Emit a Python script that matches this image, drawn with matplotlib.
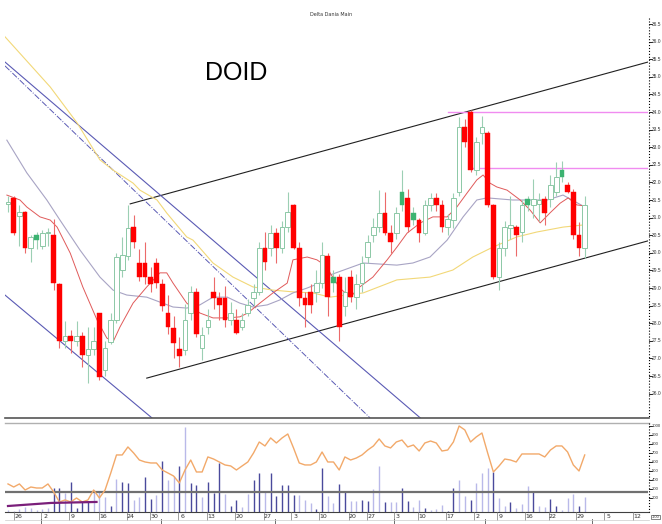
import matplotlib
matplotlib.use("Agg")
import matplotlib.pyplot as plt
from matplotlib.lines import Line2D

W, H = 662, 524

# daily candles (price), kind: r = down (red), h = up (hollow), g = green filled
opens = [31.40, 31.55, 31.05, 31.15, 30.15, 30.50, 30.20, 30.55, 30.50, 29.10,
         27.50, 27.65, 27.50, 27.65, 27.10, 27.27, 28.30, 26.67, 27.47, 28.10,
         29.50, 29.90, 30.73, 29.70, 29.70, 29.30, 29.70, 29.10, 28.30, 27.85,
         27.27, 27.25, 28.30, 28.90, 27.30, 27.90, 28.90, 28.72, 28.72, 28.10,
         28.10, 27.90, 28.30, 28.72, 28.90, 30.14, 30.14, 30.56, 30.14, 30.73,
         31.36, 30.14, 28.72, 28.89, 28.90, 29.14, 29.90, 29.30, 29.31, 28.50,
         29.30, 28.75, 29.15, 29.88, 30.50, 30.73, 31.13, 30.56, 30.56, 31.73,
         31.56, 31.13, 30.93, 30.56, 31.36, 31.56, 31.36, 30.73, 30.93, 31.73,
         33.57, 34.00, 32.35, 33.40, 33.40, 31.36, 29.31, 30.14, 30.70, 30.73,
         30.60, 31.53, 31.36, 31.40, 31.53, 31.53, 31.73, 32.35, 31.93, 31.73,
         30.51, 30.14]
highs = [31.60, 31.60, 31.35, 31.20, 30.50, 30.60, 30.65, 30.70, 30.95, 29.15,
         28.05, 27.80, 28.05, 27.75, 27.90, 27.90, 28.30, 27.50, 28.30, 30.00,
         30.45, 31.35, 31.08, 30.10, 30.30, 29.60, 29.85, 29.25, 28.80, 28.20,
         27.60, 28.55, 29.05, 29.00, 27.90, 28.40, 29.30, 28.90, 29.05, 28.60,
         28.40, 28.30, 28.70, 29.10, 30.30, 30.60, 30.80, 30.70, 30.90, 31.73,
         31.40, 30.30, 28.90, 29.10, 29.50, 30.30, 30.00, 29.50, 29.40, 29.30,
         29.50, 29.40, 29.90, 30.50, 31.00, 31.78, 31.73, 30.80, 31.30, 32.35,
         31.80, 31.30, 31.00, 31.50, 31.70, 31.70, 31.50, 31.10, 31.70, 33.85,
         33.80, 34.05, 33.30, 33.90, 33.45, 31.40, 30.30, 30.90, 31.60, 30.80,
         31.50, 31.60, 32.10, 31.70, 31.60, 32.20, 32.58, 32.60, 32.00, 31.80,
         30.88, 31.60]
lows = [31.15, 30.50, 30.20, 30.00, 29.75, 30.10, 30.10, 30.20, 28.95, 27.30,
        27.30, 27.15, 27.35, 26.75, 26.30, 27.10, 26.40, 26.50, 27.40, 28.00,
        29.30, 29.80, 30.15, 29.20, 29.10, 28.90, 29.00, 28.35, 27.70, 27.00,
        26.75, 27.10, 28.10, 27.60, 26.95, 27.70, 28.40, 28.10, 27.90, 27.95,
        27.70, 27.80, 28.20, 28.50, 28.80, 29.50, 29.90, 29.70, 30.00, 30.60,
        30.10, 28.50, 27.90, 28.30, 28.60, 29.00, 28.20, 28.90, 27.50, 28.20,
        28.60, 28.40, 28.90, 29.70, 30.30, 30.60, 30.50, 30.00, 30.40, 31.20,
        30.60, 30.80, 30.30, 30.50, 31.20, 31.20, 30.60, 30.50, 30.70, 31.60,
        33.00, 32.30, 32.20, 33.10, 31.30, 29.25, 28.94, 29.90, 30.40, 29.90,
        30.30, 31.20, 31.00, 30.90, 30.80, 31.30, 31.60, 32.00, 31.70, 30.40,
        29.90, 29.85]
closes = [31.45, 30.55, 31.15, 30.15, 30.45, 30.35, 30.55, 30.58, 29.15, 27.50,
          27.65, 27.50, 27.65, 27.10, 27.27, 27.50, 26.47, 27.30, 28.09, 29.88,
          29.95, 30.70, 30.31, 29.30, 29.30, 29.10, 29.15, 28.50, 27.90, 27.45,
          27.07, 28.10, 28.90, 27.70, 27.66, 28.10, 28.72, 28.52, 28.10, 28.30,
          27.72, 28.10, 28.52, 28.90, 30.14, 29.74, 30.56, 30.14, 30.73, 31.15,
          30.14, 28.72, 28.52, 28.52, 29.14, 29.94, 28.75, 29.15, 27.90, 28.90,
          28.75, 29.10, 29.70, 30.31, 30.73, 31.13, 30.56, 30.31, 31.13, 31.36,
          30.73, 30.93, 30.56, 31.36, 31.56, 31.36, 30.73, 30.96, 31.56, 33.57,
          33.15, 32.35, 33.15, 33.57, 31.36, 29.31, 30.14, 30.73, 30.80, 30.51,
          31.36, 31.36, 31.53, 31.50, 31.13, 31.93, 32.15, 32.15, 31.73, 30.51,
          30.14, 31.36]
kinds = list("hrhrhghhrr" "hrhrhhrhhh" "hhrrrrrrrr" "rhhrhhrrrh" "rhhhhrhrhh"
             "rrrrhhrgrh" "rhhhhhrrhg" "rgrhhrrhhh" "rrhhrrhhhr" "hghhrhhgrr" "rh")

# moving averages (candle index, price)
ma_red_x = [-0.2, 2.1, 3.3, 5.6, 7.4, 8.6, 10.9, 13.1, 15.6, 17.3, 18.4, 19.6, 21.9, 24.3,
            26.6, 27.8, 28.9, 31.3, 33.6, 35.9, 38.4, 40.6, 42.0, 44.1, 46.4, 48.9, 49.9,
            52.4, 54.1, 55.9, 56.4, 58.1, 59.9, 61.6, 63.9, 66.4, 68.1, 69.9, 72.2, 74.4,
            76.9, 78.6, 80.4, 82.1, 83.2, 84.4, 85.6, 87.4, 89.7, 91.4, 93.2, 94.9, 96.7,
            98.1, 99.6, 101.1]
ma_red_y = [31.64, 31.50, 31.30, 31.02, 30.93, 30.73, 29.99, 29.03, 28.09, 27.58, 27.47,
            27.89, 28.57, 29.03, 29.43, 29.43, 29.14, 28.57, 28.29, 28.15, 28.15, 28.18,
            28.29, 28.57, 28.86, 29.14, 29.80, 29.88, 29.80, 29.60, 29.43, 29.00, 28.74,
            29.03, 29.31, 29.80, 30.16, 30.56, 30.85, 31.02, 31.02, 31.30, 31.70, 32.07,
            32.21, 31.98, 31.87, 31.78, 31.50, 31.22, 30.85, 31.13, 31.41, 31.56, 31.36,
            31.33]
ma_grey_x = [-0.2, 3.3, 6.8, 9.1, 12.6, 16.1, 18.4, 20.8, 24.3, 26.6, 28.9, 31.3, 33.6,
             35.9, 38.4, 40.6, 42.9, 45.4, 47.6, 49.9, 52.4, 54.6, 56.4, 62.2, 68.1, 70.9,
             73.9, 76.9, 79.7, 82.1, 83.9, 88.4, 91.4, 94.4, 97.2, 100.7]
ma_grey_y = [33.20, 32.27, 31.50, 30.93, 30.08, 29.31, 28.94, 28.80, 28.74, 28.60, 28.46,
             28.43, 28.52, 28.74, 28.74, 28.57, 28.46, 28.52, 28.66, 28.86, 29.00, 29.14,
             29.37, 29.71, 29.65, 29.71, 29.88, 30.36, 31.02, 31.50, 31.56, 31.50, 31.50,
             31.50, 31.64, 31.33]
ma_yel_x = [-0.6, 7.4, 12.1, 16.1, 18.4, 21.9, 23.1, 26.1, 27.8, 31.3, 32.4, 35.9, 39.4,
            42.9, 46.4, 49.9, 53.4, 56.4, 62.2, 68.1, 73.9, 77.9, 81.4, 84.9, 89.1, 92.6,
            97.2, 100.7]
ma_yel_y = [36.15, 34.71, 33.69, 32.64, 32.35, 31.98, 31.78, 31.50, 31.13, 30.45, 30.36,
            29.71, 29.31, 29.03, 28.94, 28.89, 28.86, 28.74, 28.86, 29.23, 29.31, 29.51,
            29.88, 30.16, 30.45, 30.59, 30.73, 30.79]

# drawn trendlines: ((x0, y0), (x1, y1)) in candle index / price
chan_up = ((21.4, 31.39), (112.1, 35.42))
chan_dn = ((24.3, 26.44), (112.1, 30.34))
blue_a = ((-0.53, 35.42), (72.2, 25.31))
blue_b = ((-0.53, 35.31), (63.4, 25.31))
blue_c = ((-0.53, 28.80), (25.2, 25.31))
resist_1 = ((77.1, 34.00), (112.1, 34.00))
resist_2 = ((81.3, 32.42), (112.1, 32.42))

# lower panel: volume bars and oscillator
volume = [70, 60, 75, 96, 85, 67, 80, 90, 307, 307, 252, 381, 85, 159, 159, 289, 270, 215,
          111, 407, 378, 363, 178, 215, 430, 193, 233, 615, 400, 444, 555, 993, 370, 341,
          215, 378, 252, 593, 244, 111, 178, 96, 244, 400, 481, 267, 481, 222, 341, 341,
          233, 233, 178, 148, 74, 537, 222, 148, 352, 270, 170, 170, 178, 170, 300, 560,
          160, 150, 160, 307, 170, 96, 178, 85, 67, 78, 120, 50, 315, 395, 222, 178, 363,
          481, 537, 492, 196, 115, 150, 92, 133, 333, 281, 115, 104, 185, 111, 67, 196,
          244, 111, 215]
vol_dark = list("lllllllldd" "lddddllldl" "ddllddldll" "dlddldddld" "dllddldddd"
                "dlllddlldd" "llddlldlld" "dlldlllddl" "ldllldlldl" "lldllddlll" "dl")
osc = [356, 322, 356, 289, 322, 311, 311, 356, 267, 156, 178, 156, 200, 156, 178, 289,
       200, 289, 478, 678, 678, 767, 700, 622, 600, 589, 589, 511, 478, 444, 367, 511,
       622, 489, 489, 656, 633, 600, 567, 556, 511, 556, 600, 700, 822, 778, 867, 811,
       867, 911, 756, 589, 567, 567, 600, 711, 600, 600, 511, 656, 622, 644, 678, 733,
       778, 856, 778, 756, 822, 844, 767, 789, 722, 811, 833, 811, 722, 733, 822, 1000,
       956, 822, 878, 922, 700, 489, 556, 633, 622, 600, 689, 689, 689, 689, 656, 733,
       778, 778, 711, 567, 500, 678]
purple_x = [0, 7.5, 15.5]
purple_y = [111, 145, 156]
osc_level = 267

price_ticks = [36.5, 36.0, 35.5, 35.0, 34.5, 34.0, 33.5, 33.0, 32.5, 32.0, 31.5, 31.0,
               30.5, 30.0, 29.5, 29.0, 28.5, 28.0, 27.5, 27.0, 26.5, 26.0]
osc_ticks = [1000, 900, 800, 700, 600, 500, 400, 300, 200]
date_labels = ["26", "2", "9", "16", "24", "30", "6", "13", "20", "27", "3", "10", "20",
               "27", "3", "10", "17", "2", "9", "16", "22", "29", "5", "12"]
date_pos = [1.75, 6.5, 11.4, 16.6, 21.5, 25.6, 30.5, 35.6, 40.5, 45.5, 50.3, 55.2, 60.4,
            63.6, 68.3, 72.5, 77.4, 82.3, 86.3, 91.2, 95.4, 100.2, 105.1, 110.2]
month_pos = [6.5, 27.5, 47.5, 68.3, 84.3, 103.0]


def fx(px):
    return px / W


def fy(py):
    return 1 - py / H


fig = plt.figure(figsize=(W / 100, H / 100), dpi=100)
fig.patch.set_facecolor("white")

ax = fig.add_axes([fx(5), fy(418), fx(643), 400 / H])
ax.set_xlim(-0.525, 112.08)
ax.set_ylim(25.307, 36.670)
ax.axis("off")

axv = fig.add_axes([fx(5), fy(512), fx(643), 89 / H], sharex=ax)
axv.set_ylim(44.4, 1033)
axv.axis("off")


def seg(a, s, **kw):
    a.plot([s[0][0], s[1][0]], [s[0][1], s[1][1]], **kw)


# trendlines
seg(ax, chan_up, color="#202020", lw=0.8)
seg(ax, chan_dn, color="#202020", lw=0.8)
seg(ax, blue_a, color="#5a5ab4", lw=0.8)
seg(ax, blue_b, color="#5a5ab4", lw=0.7, ls="-.")
seg(ax, blue_c, color="#5a5ab4", lw=0.8)
seg(ax, resist_1, color="#f08cf0", lw=1.0)
seg(ax, resist_2, color="#f08cf0", lw=1.0)

# moving averages
ax.plot(ma_yel_x, ma_yel_y, color="#f2d878", lw=0.8)
ax.plot(ma_grey_x, ma_grey_y, color="#a8a4c4", lw=0.8)
ax.plot(ma_red_x, ma_red_y, color="#e05a5a", lw=0.7)

# candles
for i in range(len(opens)):
    o, hi, lo, c, k = opens[i], highs[i], lows[i], closes[i], kinds[i]
    if k == "r":
        face, edge, wick = "#ff0000", "#ff0000", "#ec6a6a"
    elif k == "g":
        face, edge, wick = "#3cb371", "#3cb371", "#9ccfb4"
    else:
        face, edge, wick = "white", "#8cc8a6", "#9ccfb4"
    ax.vlines(i, lo, hi, color=wick, lw=0.8, zorder=3)
    bot = min(o, c)
    hgt = max(abs(c - o), 0.04)
    ax.bar(i, hgt, bottom=bot, width=0.82, color=face, edgecolor=edge,
           lw=0.7 if k == "h" else 0.3, zorder=4)

# lower panel
for i, v in enumerate(volume):
    col = "#4a4a9c" if vol_dark[i] == "d" else "#b9b9e9"
    axv.vlines(i, 0, v, color=col, lw=1.0)
axv.axhline(osc_level, color="#707070", lw=1.6)
axv.plot(range(len(osc)), osc, color="#f2a96a", lw=1.0)
axv.plot(purple_x, purple_y, color="#7a1f7a", lw=1.6)

# panel frame lines
fig.add_artist(Line2D([fx(5), fx(649)], [fy(418), fy(418)], color="#555555", lw=1.2))
fig.add_artist(Line2D([fx(5), fx(649)], [fy(423), fy(423)], color="#b0b0b0", lw=1.0))
fig.add_artist(Line2D([fx(5), fx(649)], [fy(512), fy(512)], color="#404040", lw=0.8))
fig.add_artist(Line2D([fx(649), fx(649)], [fy(18), fy(418)], color="black", lw=0.8, ls=":"))
fig.add_artist(Line2D([fx(649), fx(649)], [fy(423), fy(512)], color="black", lw=0.8, ls=":"))

# right price scale (narrow strip, so small narrow digits)
scale_font = ["Liberation Sans", "DejaVu Sans"]
for p in price_ticks:
    yy = 112 + (34 - p) * 35.2
    fig.add_artist(Line2D([fx(649), fx(651.5)], [fy(yy), fy(yy)], color="black", lw=0.6))
    fig.text(fx(652), fy(yy), "%.1f" % p, fontsize=3.5, va="center", ha="left",
             color="#333333", family=scale_font)
for v in osc_ticks:
    yy = 426 + (1000 - v) * 0.09
    fig.add_artist(Line2D([fx(649), fx(651.5)], [fy(yy), fy(yy)], color="black", lw=0.6))
    fig.text(fx(652), fy(yy), str(v), fontsize=3.1, va="center", ha="left",
             color="#333333", family=scale_font)
fig.text(fx(651.5), fy(517), "-100", fontsize=2.8, va="center", ha="left", color="#333333",
         family=scale_font,
         bbox=dict(boxstyle="square,pad=0.12", fc="white", ec="#555555", lw=0.5))

# date axis
for lab, pos in zip(date_labels, date_pos):
    xp = 8 + pos * 5.71
    fig.add_artist(Line2D([fx(xp - 4), fx(xp - 4)], [fy(512), fy(520)], color="#777777", lw=0.5))
    fig.text(fx(xp), fy(517), lab, fontsize=4.5, ha="center", va="center", color="#333333")
for pos in month_pos:
    xp = 8 + pos * 5.71
    fig.add_artist(Line2D([fx(xp - 4), fx(xp - 4)], [fy(519), fy(524)], color="#555555", lw=0.6))
fig.add_artist(Line2D([fx(5), fx(649)], [fy(520), fy(520)], color="#cccccc", lw=0.5))

# titles
fig.text(fx(331), fy(15), "Delta Dania Main", fontsize=3.5, ha="center", va="center", color="#333333")
fig.text(fx(236), fy(73), "DOID", fontsize=18, ha="center", va="center", color="black",
         family="Liberation Sans")

fig.savefig("out.png", dpi=100, facecolor="white")
